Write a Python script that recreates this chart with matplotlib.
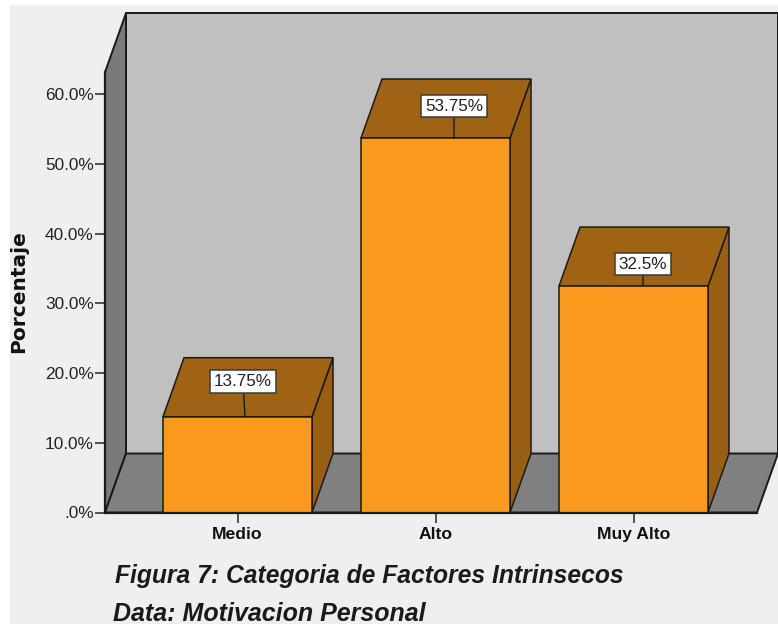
import matplotlib
matplotlib.use('Agg')
import matplotlib.pyplot as plt
from matplotlib.patches import Polygon, Rectangle

plt.rcParams['font.family'] = ['Liberation Sans', 'DejaVu Sans']

categories = ['Medio', 'Alto', 'Muy Alto']
percentages = [13.75, 53.75, 32.5]
bar_labels = ['13.75%', '53.75%', '32.5%']
y_ticks = [0, 10, 20, 30, 40, 50, 60]
y_tick_labels = ['.0%', '10.0%', '20.0%', '30.0%', '40.0%', '50.0%', '60.0%']

W, H = 778, 624
BG = '#efefef'
EDGE = '#1a1a1a'

# chart box in pixels
left_px, right_px = 105, 757
bottom_px = 512.5
px_per_pct = 6.967
px_per_cat = 198
first_center_px = 237.5
y_top = 63.2

# depth of the fake 3d box, in data units
depth_x = 21 / px_per_cat
depth_y = 59 / px_per_pct
bar_width = 149 / px_per_cat

fig = plt.figure(figsize=(W / 100, H / 100), dpi=100, facecolor='white')
fig.add_artist(Rectangle((10 / W, 0), 1, 1 - 5 / H, transform=fig.transFigure,
                         facecolor=BG, edgecolor='none', zorder=-5))

ax = fig.add_axes([left_px / W, 1 - bottom_px / H,
                   (right_px - left_px) / W, y_top * px_per_pct / H])
ax.patch.set_visible(False)
x_min = (left_px - first_center_px) / px_per_cat
x_max = (right_px - first_center_px) / px_per_cat
ax.set_xlim(x_min, x_max)
ax.set_ylim(0, y_top)


def face(points, color, z, lw=1.4):
    ax.add_patch(Polygon(points, closed=True, facecolor=color, edgecolor=EDGE,
                         linewidth=lw, zorder=z, clip_on=False, joinstyle='miter'))


# walls and floor
face([(x_min + depth_x, depth_y), (x_max + depth_x, depth_y),
      (x_max + depth_x, y_top + depth_y), (x_min + depth_x, y_top + depth_y)], '#c0c0c0', 1)
face([(x_min, 0), (x_min + depth_x, depth_y),
      (x_min + depth_x, y_top + depth_y), (x_min, y_top)], '#7a7a7a', 1)
face([(x_min, 0), (x_max, 0), (x_max + depth_x, depth_y), (x_min + depth_x, depth_y)], '#808080', 1)

# bars
for i, v in enumerate(percentages):
    x0 = i - bar_width / 2
    x1 = i + bar_width / 2
    face([(x1, 0), (x1 + depth_x, depth_y), (x1 + depth_x, v + depth_y), (x1, v)], '#985f12', 3, 1.1)
    face([(x0, v), (x1, v), (x1 + depth_x, v + depth_y), (x0 + depth_x, v + depth_y)], '#a06213', 3, 1.1)
    ax.bar(i, v, width=bar_width, color='#fb991e', edgecolor=EDGE, linewidth=1.1, zorder=4)

# value labels with leader lines
leader_x = [7.5, 18.5, 9.5]
label_shift = [(-2, 35), (0, 32), (0, 22)]
for i, v in enumerate(percentages):
    ax.annotate(bar_labels[i], xy=(i + leader_x[i] / px_per_cat, v),
                xytext=label_shift[i], textcoords='offset pixels',
                ha='center', va='center', fontsize=12.3, color='#222222', zorder=6,
                bbox=dict(boxstyle='square,pad=0.22', facecolor='white', edgecolor='#3a3a3a', linewidth=1.1),
                arrowprops=dict(arrowstyle='-', color=EDGE, linewidth=1.0,
                                shrinkA=0, shrinkB=0))

for side in ['top', 'right']:
    ax.spines[side].set_visible(False)
for side in ['left', 'bottom']:
    ax.spines[side].set_linewidth(1.6)
    ax.spines[side].set_color(EDGE)
    ax.spines[side].set_zorder(5)

ax.set_yticks(y_ticks)
ax.set_yticklabels(y_tick_labels)
ax.set_xticks(range(len(categories)))
ax.set_xticklabels(categories, fontweight='bold')
ax.tick_params(axis='y', length=7.2, width=1.2, color='#333333', labelsize=12.4,
               labelcolor='#222222', pad=1)
ax.tick_params(axis='x', length=7.2, width=1.2, color='#333333', labelsize=12.6,
               labelcolor='#111111', pad=3)

fig.text(19 / W, 1 - 292 / H, 'Porcentaje', rotation=90, ha='center', va='center',
         fontsize=14.5, fontweight='bold', family='DejaVu Sans', color='#111111')

fig.text(115 / W, 1 - 583 / H, 'Figura 7: Categoria de Factores Intrinsecos',
         fontsize=17.75, style='italic', fontweight='bold', color='#1a1a1a', va='baseline')
fig.text(113 / W, 1 - 621 / H, 'Data: Motivacion Personal',
         fontsize=18, style='italic', fontweight='bold', color='#1a1a1a', va='baseline')

fig.savefig('out.png', dpi=100, facecolor=fig.get_facecolor())
